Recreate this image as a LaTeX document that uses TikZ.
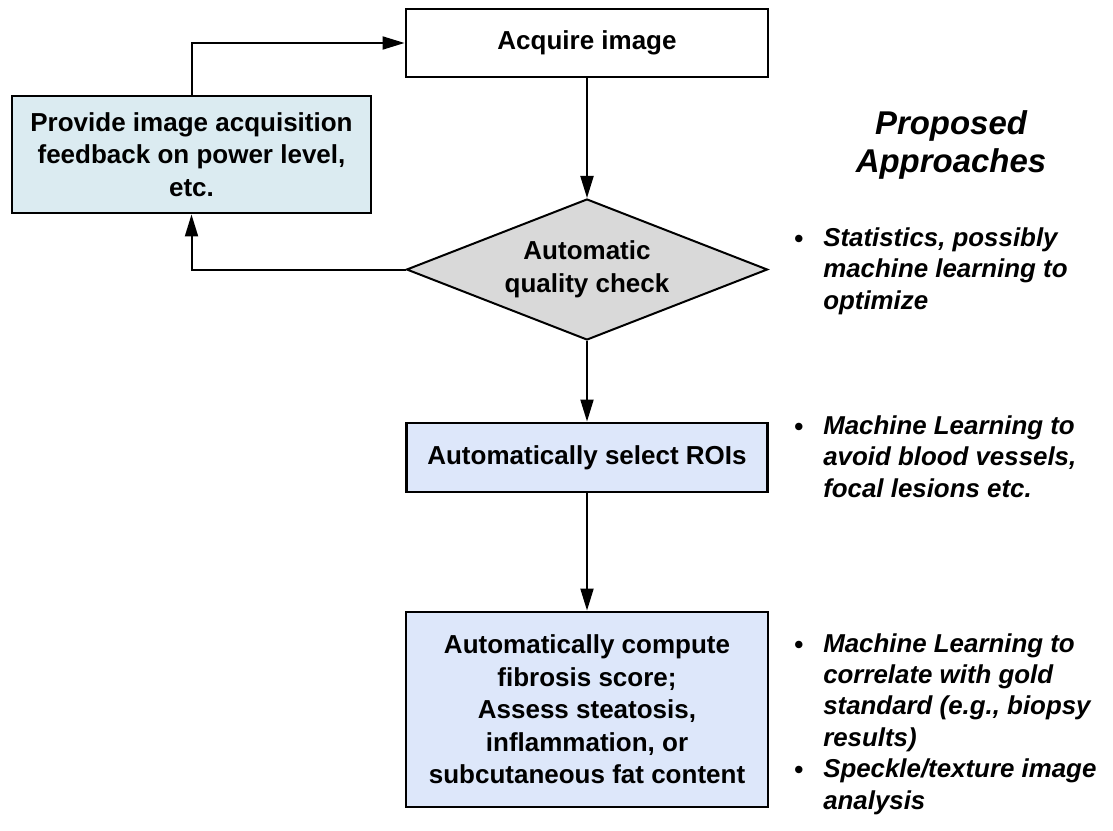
\documentclass[tikz,border=0pt]{standalone}
\usepackage{fontspec}
\setmainfont{Liberation Sans}
\usetikzlibrary{shapes.geometric,arrows.meta}
\newdimen\pu \pu=0.75pt
\definecolor{feedbackfill}{HTML}{DBEBF1}
\definecolor{stepfill}{HTML}{DDE7FA}
\definecolor{checkfill}{HTML}{D9D9D9}
\begin{document}
\begin{tikzpicture}[x=0.75pt,y=-0.75pt,
  boxtext/.style={font=\fontsize{19.5}{24.4}\selectfont\bfseries},
  stepbox/.style={boxtext, draw, line width=2.2pt, inner sep=0pt, align=center},
  checkbox/.style={boxtext, shape=diamond, draw, fill=checkfill, line width=1.5pt,
    inner sep=0pt, align=center, aspect=2.56},
  flow/.style={line width=1.5pt, -{Triangle[length=16.5pt, width=9.75pt]}},
  % multi-line notes are placed by the baseline of their last line
  notetext/.style={font=\fontsize{19.4}{23.3}\selectfont\bfseries\itshape,
    inner sep=0pt, align=left, anchor=base west},
  dot/.style={font=\fontsize{19.4}{23.3}\selectfont\bfseries, inner sep=0pt, anchor=base}
]
\useasboundingbox (0,0) rectangle (1113,831);

% main flow
\node[stepbox, minimum width=362\pu, minimum height=68\pu] (acq) at (587,43) {Acquire image};
\node[stepbox, fill=feedbackfill, minimum width=359\pu, minimum height=117\pu] (fb) at (191.5,154.5)
  {Provide image acquisition\\feedback on power level,\\etc.};
\node[checkbox, minimum width=361\pu, minimum height=141\pu] (qc) at (587,269.5)
  {Automatic\\quality check};
\node[stepbox, fill=stepfill, minimum width=361\pu, minimum height=69\pu] (roi) at (587,457.5)
  {Automatically select ROIs};
\node[stepbox, fill=stepfill, minimum width=362\pu, minimum height=195\pu] (score) at (587,709.5)
  {Automatically compute\\fibrosis score;\\Assess steatosis,\\inflammation, or\\subcutaneous fat content};

% connectors
\draw[flow] (acq.south) -- (qc.north);
\draw[flow] (qc.south) -- (roi.north);
\draw[flow] (roi.south) -- (score.north);
\draw[flow] (qc.west) -| (fb.south);
\draw[flow] (fb.north) |- (acq.west);

% approaches column
\node[font=\fontsize{24.7}{28.5}\selectfont\bfseries\itshape, inner sep=0pt, align=center, anchor=base] (title)
  at (951,173) {Proposed\\Approaches};

\node[dot] (b1) at (799,247) {•};
\node[notetext] (n1) at (823,309) {Statistics, possibly\\machine learning to\\optimize};
\node[dot] (b2) at (799,435) {•};
\node[notetext] (n2) at (823,497) {Machine Learning to\\avoid blood vessels,\\focal lesions etc.};
\node[dot] (b3) at (799,653) {•};
\node[notetext] (n3) at (823,746) {Machine Learning to\\correlate with gold\\standard (e.g., biopsy\\results)};
\node[dot] (b4) at (799,778) {•};
\node[notetext] (n4) at (823,809) {Speckle/texture image\\analysis};
\end{tikzpicture}
\end{document}
